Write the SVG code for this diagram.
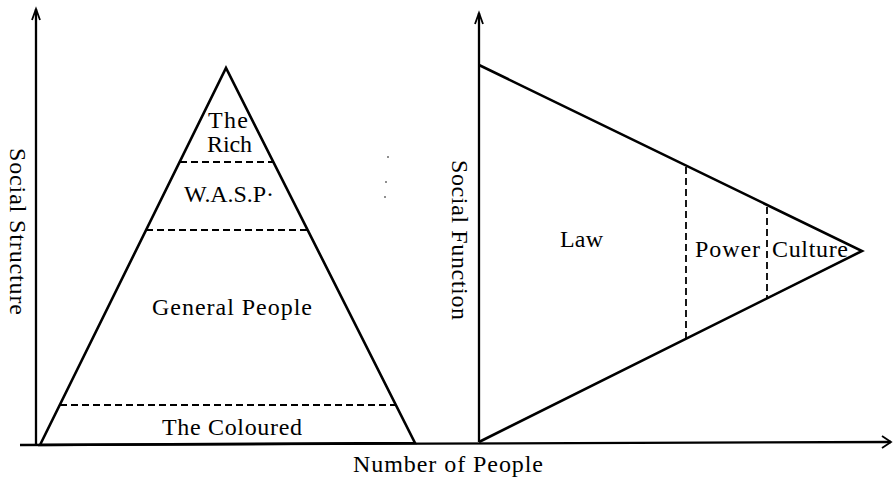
<svg xmlns="http://www.w3.org/2000/svg" width="893" height="478" viewBox="0 0 893 478">
<style>
.ln{fill:none;stroke:#000;stroke-width:2.6;stroke-linejoin:miter}
.ax{fill:none;stroke:#000;stroke-width:2.3}
.ds{fill:none;stroke:#000;stroke-width:1.8;stroke-dasharray:7,4}
.ah{fill:none;stroke:#000;stroke-width:1.8}
text{font-family:"Liberation Serif","Times New Roman",serif;font-size:24px;fill:#000}
</style>
<rect width="893" height="478" fill="#fff"/>
<g id="axes">
<line class="ax" x1="36" y1="445" x2="36" y2="9"/>
<polyline class="ah" points="32,20 36,9 40,20"/>
<line class="ax" x1="479" y1="442" x2="479" y2="13"/>
<polyline class="ah" points="475,24 479,13 483,24"/>
<line class="ax" x1="20" y1="445" x2="891" y2="442"/>
<polyline class="ah" points="882,436 891,442 882,448"/>
</g>
<g id="pyramid">
<polygon class="ln" points="40,445 226,68 415,443"/>
<line class="ds" x1="180" y1="162" x2="273" y2="162"/>
<line class="ds" x1="146" y1="230" x2="307" y2="230"/>
<line class="ds" x1="60" y1="405" x2="395" y2="405"/>
</g>
<g id="wedge">
<polyline class="ln" points="479,65 862,251 479,442"/>
<line class="ds" x1="686" y1="167" x2="686" y2="338"/>
<line class="ds" x1="767" y1="207" x2="767" y2="298"/>
</g>
<g id="labels">
<text x="208" y="128" textLength="40">The</text>
<text x="207" y="152" textLength="45">Rich</text>
<text x="184" y="202" textLength="90">W.A.S.P·</text>
<text x="152" y="315" textLength="160">General People</text>
<text x="162" y="435" textLength="140">The Coloured</text>
<text x="560" y="247" textLength="43">Law</text>
<text x="695" y="257" textLength="65">Power</text>
<text x="772" y="257" textLength="76">Culture</text>
<text x="353" y="472" textLength="190">Number of People</text>
<text transform="translate(10,148) rotate(90)" textLength="167">Social Structure</text>
<text transform="translate(452,160) rotate(90)" textLength="160">Social Function</text>
</g>
<g id="specks" fill="#000">
<circle cx="388" cy="157" r="0.8"/>
<circle cx="386" cy="182" r="0.8"/>
<circle cx="385" cy="197" r="0.8"/>
</g>
</svg>
